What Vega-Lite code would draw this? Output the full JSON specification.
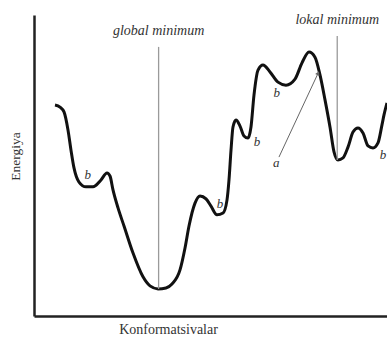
{
  "$schema": "https://vega.github.io/schema/vega-lite/v6.json",
  "width": 353,
  "height": 301,
  "autosize": {"type": "none"},
  "padding": {"left": 34, "top": 15, "right": 0, "bottom": 22},
  "background": "white",
  "config": {
    "view": {"stroke": null},
    "font": "Liberation Serif",
    "axis": {
      "grid": false, "ticks": false, "labels": false,
      "domainColor": "#222", "domainWidth": 2.5,
      "titleFont": "Liberation Serif", "titleFontWeight": "normal",
      "titleColor": "#333"
    }
  },
  "datasets": {
    "curve": [
      {"conf": 5.95, "energy": 70.1},
      {"conf": 7.37, "energy": 69.4},
      {"conf": 8.5, "energy": 67.8},
      {"conf": 9.63, "energy": 61.8},
      {"conf": 10.48, "energy": 55.1},
      {"conf": 11.33, "energy": 49.2},
      {"conf": 12.75, "energy": 44.5},
      {"conf": 14.73, "energy": 42.9},
      {"conf": 16.71, "energy": 42.9},
      {"conf": 18.98, "energy": 45.2},
      {"conf": 20.68, "energy": 47.5},
      {"conf": 21.53, "energy": 46.5},
      {"conf": 22.38, "energy": 41.9},
      {"conf": 23.8, "energy": 35.9},
      {"conf": 25.5, "energy": 29.9},
      {"conf": 28.05, "energy": 20.9},
      {"conf": 30.88, "energy": 13.0},
      {"conf": 32.86, "energy": 10.0},
      {"conf": 35.13, "energy": 9.0},
      {"conf": 37.39, "energy": 9.3},
      {"conf": 39.09, "energy": 10.6},
      {"conf": 41.36, "energy": 15.3},
      {"conf": 42.78, "energy": 22.6},
      {"conf": 43.91, "energy": 29.9},
      {"conf": 45.61, "energy": 37.5},
      {"conf": 47.03, "energy": 39.9},
      {"conf": 48.73, "energy": 38.9},
      {"conf": 50.14, "energy": 36.5},
      {"conf": 51.84, "energy": 33.6},
      {"conf": 53.54, "energy": 34.2},
      {"conf": 54.67, "energy": 38.5},
      {"conf": 55.24, "energy": 45.2},
      {"conf": 55.81, "energy": 55.1},
      {"conf": 56.37, "energy": 62.8},
      {"conf": 57.22, "energy": 65.1},
      {"conf": 58.36, "energy": 63.1},
      {"conf": 59.49, "energy": 59.8},
      {"conf": 60.62, "energy": 59.1},
      {"conf": 61.47, "energy": 62.8},
      {"conf": 62.32, "energy": 73.4},
      {"conf": 63.46, "energy": 81.7},
      {"conf": 64.87, "energy": 83.4},
      {"conf": 66.86, "energy": 81.1},
      {"conf": 69.12, "energy": 77.7},
      {"conf": 71.39, "energy": 76.7},
      {"conf": 73.94, "energy": 78.7},
      {"conf": 75.92, "energy": 84.1},
      {"conf": 77.9, "energy": 87.7},
      {"conf": 79.6, "energy": 86.0},
      {"conf": 81.02, "energy": 80.1},
      {"conf": 82.44, "energy": 71.8},
      {"conf": 83.85, "energy": 62.8},
      {"conf": 84.99, "energy": 54.5},
      {"conf": 86.12, "energy": 51.8},
      {"conf": 87.54, "energy": 52.5},
      {"conf": 88.95, "energy": 56.1},
      {"conf": 90.37, "energy": 61.1},
      {"conf": 91.78, "energy": 62.5},
      {"conf": 93.2, "energy": 60.8},
      {"conf": 94.62, "energy": 56.5},
      {"conf": 96.03, "energy": 55.8},
      {"conf": 97.45, "energy": 57.5},
      {"conf": 98.58, "energy": 63.5},
      {"conf": 99.15, "energy": 66.8},
      {"conf": 100, "energy": 70.8}
    ],
    "minima": [
      {"conf": 35.3, "energy": 9.0, "high": 89.4, "label": "global minimum", "labelY": 94.8},
      {"conf": 85.9, "energy": 51.8, "high": 93.0, "label": "lokal minimum", "labelY": 98.2}
    ],
    "notes": [
      {"conf": 15.2, "energy": 46.8, "note": "b"},
      {"conf": 52.7, "energy": 37.2, "note": "b"},
      {"conf": 63.2, "energy": 57.8, "note": "b"},
      {"conf": 68.8, "energy": 74.1, "note": "b"},
      {"conf": 98.9, "energy": 53.5, "note": "b"},
      {"conf": 68.6, "energy": 50.8, "note": "a"}
    ],
    "arrow": [
      {"conf": 69.4, "energy": 52.8, "conf2": 80.5, "energy2": 80.7}
    ]
  },
  "encoding": {
    "x": {
      "field": "conf", "type": "quantitative",
      "scale": {"domain": [0, 100], "nice": false, "zero": false},
      "axis": {
        "title": "Konformatsivalar",
        "titleFontSize": 14,
        "titleAnchor": "start", "titleAlign": "center",
        "titleX": 134, "titleY": 17, "titleBaseline": "alphabetic"
      }
    },
    "y": {
      "field": "energy", "type": "quantitative",
      "scale": {"domain": [0, 100], "nice": false, "zero": false},
      "axis": {
        "title": "Energiya",
        "titleFontSize": 13.5,
        "titleAngle": -90, "titleAlign": "center", "titleBaseline": "middle",
        "titleX": -19, "titleY": 141
      }
    }
  },
  "layer": [
    {
      "data": {"name": "curve"},
      "mark": {"type": "line", "interpolate": "monotone", "color": "#111", "strokeWidth": 3, "clip": true}
    },
    {
      "data": {"name": "minima"},
      "mark": {"type": "rule", "color": "#9a9a9a", "strokeWidth": 1.3},
      "encoding": {
        "y2": {"field": "high"}
      }
    },
    {
      "data": {"name": "minima"},
      "mark": {"type": "text", "font": "Liberation Serif", "fontStyle": "italic", "fontSize": 14, "color": "#333", "baseline": "middle", "align": "center"},
      "encoding": {
        "y": {"field": "labelY", "type": "quantitative"},
        "text": {"field": "label"}
      }
    },
    {
      "data": {"name": "notes"},
      "mark": {"type": "text", "font": "Liberation Serif", "fontStyle": "italic", "fontSize": 13, "color": "#333", "baseline": "middle", "align": "center"},
      "encoding": {
        "text": {"field": "note"}
      }
    },
    {
      "data": {"name": "arrow"},
      "mark": {"type": "rule", "color": "#666", "strokeWidth": 1},
      "encoding": {
        "x2": {"field": "conf2"},
        "y2": {"field": "energy2"}
      }
    },
    {
      "data": {"name": "arrow"},
      "mark": {"type": "point", "shape": "triangle-up", "angle": 25, "size": 22, "filled": true, "color": "#666", "opacity": 1},
      "encoding": {
        "x": {"field": "conf2", "type": "quantitative"},
        "y": {"field": "energy2", "type": "quantitative"}
      }
    }
  ]
}
